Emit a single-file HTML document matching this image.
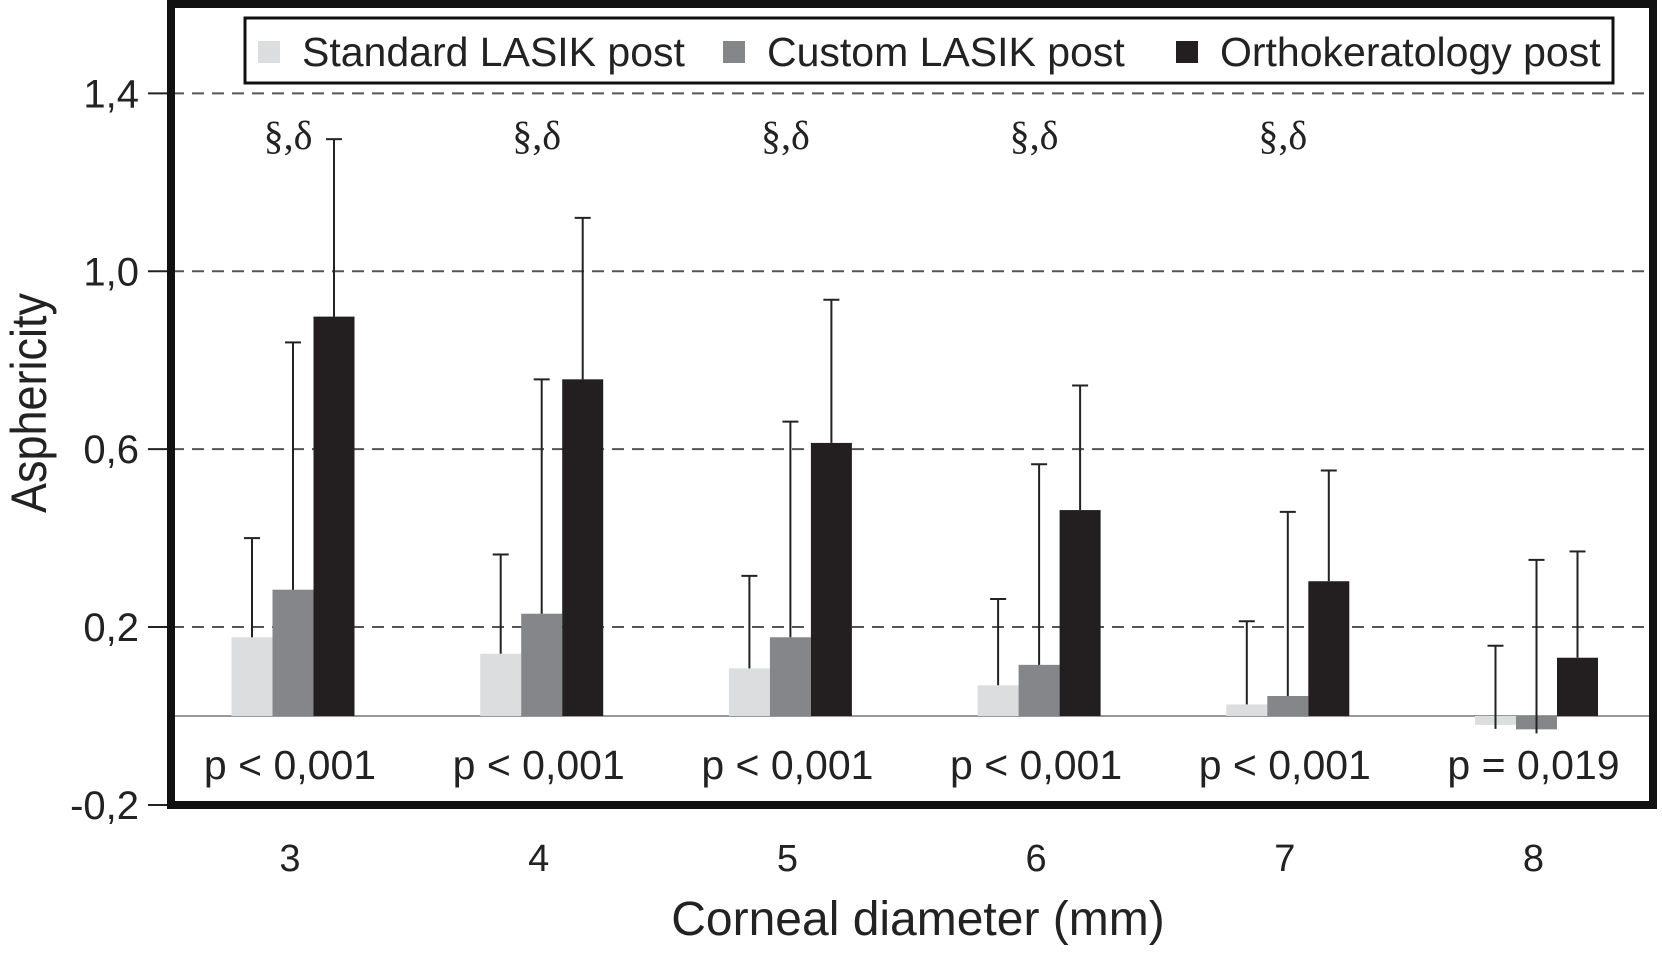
<!DOCTYPE html>
<html><head><meta charset="utf-8"><style>
body{margin:0;background:#fff;}
svg{display:block;font-family:"Liberation Sans",sans-serif;}
</style></head><body>
<svg width="1662" height="957" viewBox="0 0 1662 957">
<g id="g"></g>
</svg>
<script>
const categories=["3","4","5","6","7","8"];
const standard=[0.177,0.14,0.107,0.069,0.026,-0.02];
const custom=[0.284,0.23,0.177,0.115,0.045,-0.03];
const ortho=[0.898,0.757,0.614,0.463,0.303,0.131];
const standardErr=[0.223,0.223,0.208,0.194,0.187,0.178];
const customErr=[0.556,0.527,0.485,0.451,0.414,0.381];
const orthoErr=[0.399,0.363,0.322,0.28,0.249,0.239];
const pvals=["p < 0,001","p < 0,001","p < 0,001","p < 0,001","p < 0,001","p = 0,019"];
const sig=["§,δ","§,δ","§,δ","§,δ","§,δ",""];
const ticks=[-0.2,0.2,0.6,1.0,1.4];
const tickLabels=["-0,2","0,2","0,6","1,0","1,4"];

const NS="http://www.w3.org/2000/svg";
const g=document.getElementById('g');
function el(t,a,txt){const e=document.createElementNS(NS,t);for(const k in a)e.setAttribute(k,a[k]);if(txt!==undefined)e.textContent=txt;g.appendChild(e);return e;}
const y=v=>716-(v)*444.75;
const x=i=>290+i*248.7;
const bw=41;
ticks.forEach((t,i)=>{
 if(t>-0.2){const l=el('line',{x1:172,x2:1652,y1:y(t),y2:y(t),stroke:'#555','stroke-width':2,'stroke-dasharray':'12,8'});
 }
 const tk=el('line',{x1:148,x2:168,y1:y(t),y2:y(t),stroke:'#222','stroke-width':2});
 
 const tl=el('text',{x:139,y:y(t)+14,'text-anchor':'end','font-size':40,fill:'#222'},tickLabels[i]);
 
});
const z=el('line',{x1:172,x2:1652,y1:y(0),y2:y(0),stroke:'#777','stroke-width':1.5});

const series=[[standard,standardErr,'#dcdddf'],[custom,customErr,'#85868a'],[ortho,orthoErr,'#231f20']];
categories.forEach((c,i)=>{
 series.forEach((s,j)=>{
  const v=s[0][i],bx=x(i)+3-1.5*bw+j*bw;
  const r=el('rect',{x:bx,y:Math.min(y(v),y(0)),width:bw,height:Math.abs(y(v)-y(0)),fill:s[2]});
  
  const cx=bx+bw/2,top=y(v+s[1][i]);
  const e=el('line',{x1:cx,x2:cx,y1:y(v)+(v<0?4:0),y2:top,stroke:'#222','stroke-width':2});
  
  const cp=el('line',{x1:cx-8,x2:cx+8,y1:top,y2:top,stroke:'#222','stroke-width':2});
  
 });
 const p=el('text',{x:x(i),y:779,'text-anchor':'middle','font-size':41,fill:'#222'},pvals[i]);
 
 if(sig[i]){const s=el('text',{x:x(i)-2,y:149,'text-anchor':'middle','font-size':40,fill:'#222','font-family':'Liberation Serif,serif'},sig[i]);
 }
 const xl=el('text',{x:x(i),y:871,'text-anchor':'middle','font-size':38,fill:'#222'},c);
 
});
const fr=el('rect',{x:171,y:4,width:1482,height:801,fill:'none',stroke:'#111','stroke-width':8});

const lg=el('rect',{x:245,y:18,width:1368,height:65,fill:'#fff',stroke:'#111','stroke-width':3});

const leg=[["Standard LASIK post",258,'#dcdddf'],["Custom LASIK post",723,'#85868a'],["Orthokeratology post",1176,'#231f20']];
leg.forEach(l=>{
 const sw=el('rect',{x:l[1],y:41,width:22,height:22,fill:l[2]});
 
 const t=el('text',{x:l[1]+44,y:66,'font-size':41,fill:'#222'},l[0]);
 
});
const xt=el('text',{x:918,y:935,'text-anchor':'middle','font-size':48,fill:'#222'},"Corneal diameter (mm)");

const yt=el('text',{x:0,y:0,'text-anchor':'middle','font-size':50,fill:'#222',transform:'translate(46,403) rotate(-90) scale(0.9,1)'},"Asphericity");

</script>
</body></html>
